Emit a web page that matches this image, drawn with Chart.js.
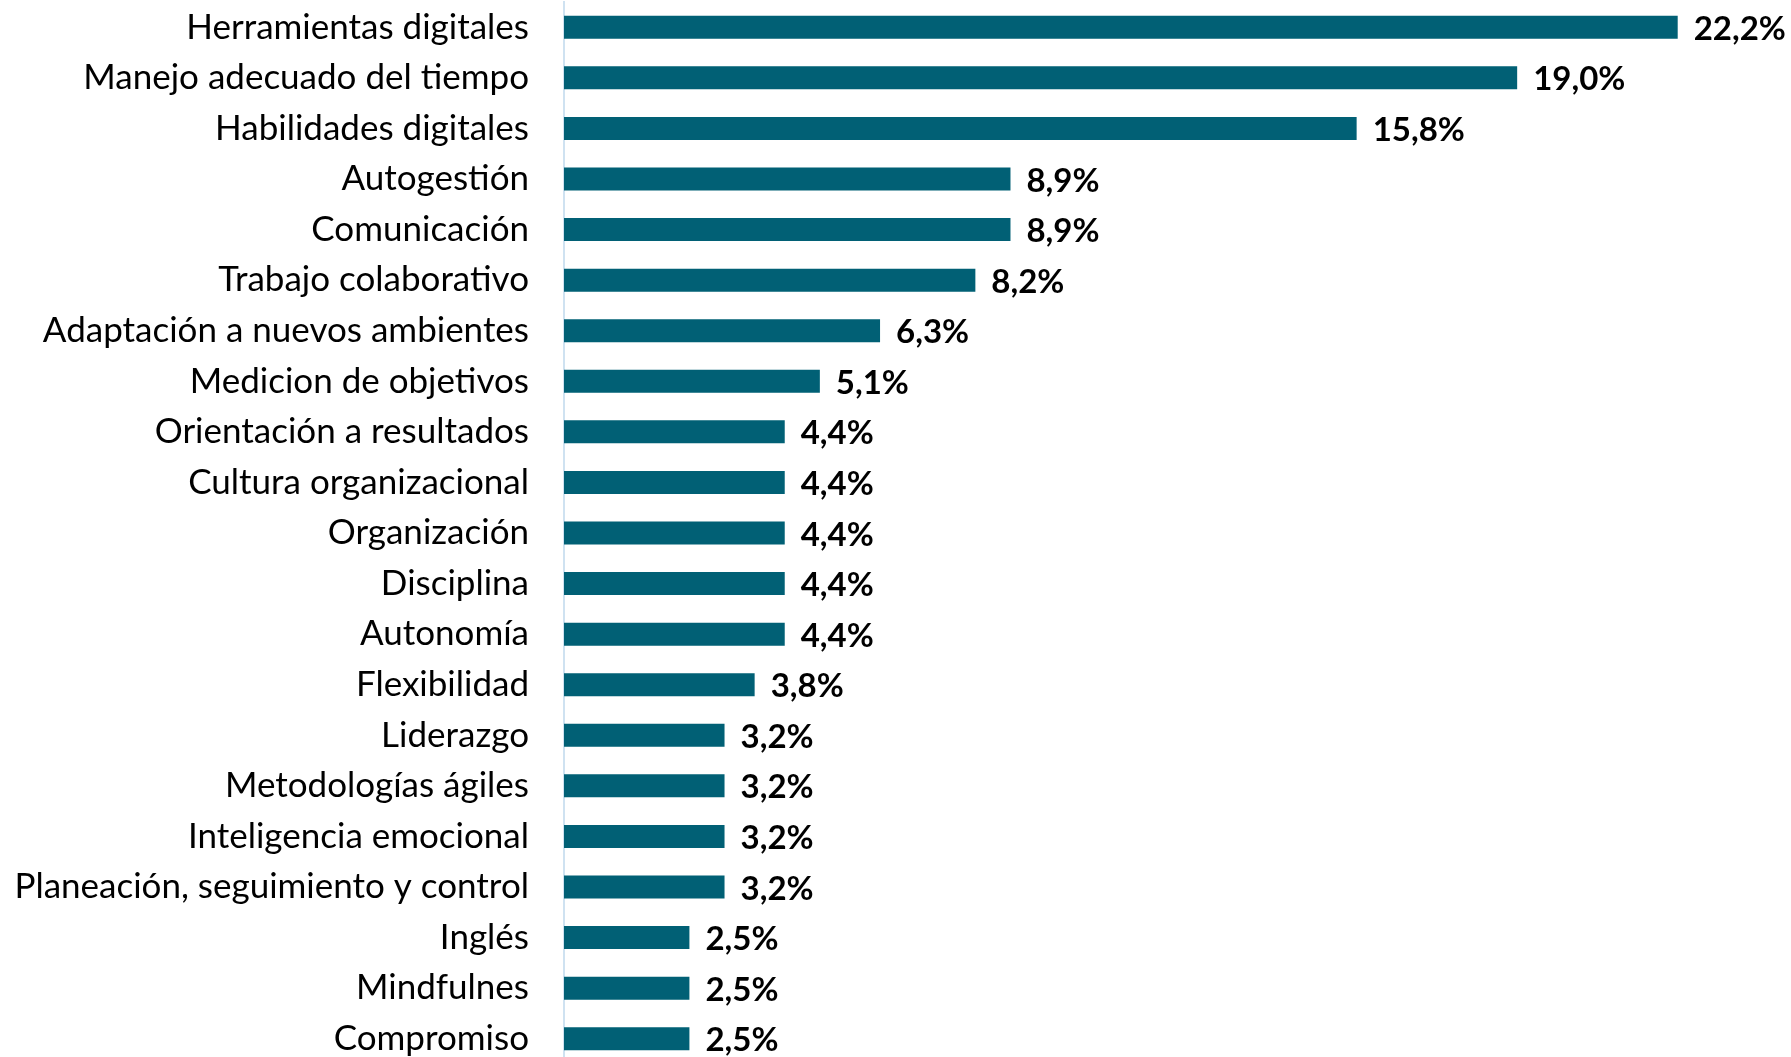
<!DOCTYPE html>
<html lang="es">
<head>
<meta charset="utf-8">
<title>Competencias</title>
<script src="https://cdn.jsdelivr.net/npm/chart.js@4"></script>
<style>
  html, body { margin: 0; padding: 0; background: #fff; overflow: hidden; }
  #wrap { width: 1791px; height: 1057px; overflow: hidden; }
</style>
</head>
<body>
<div id="wrap"><canvas id="chart" width="1791" height="1064"></canvas></div>
<script>
const labels = [
  "Herramientas digitales", "Manejo adecuado del tiempo", "Habilidades digitales",
  "Autogestión", "Comunicación", "Trabajo colaborativo", "Adaptación a nuevos ambientes",
  "Medicion de objetivos", "Orientación a resultados", "Cultura organizacional",
  "Organización", "Disciplina", "Autonomía", "Flexibilidad", "Liderazgo",
  "Metodologías ágiles", "Inteligencia emocional", "Planeación, seguimiento y control",
  "Inglés", "Mindfulnes", "Compromiso"
];
const values = [22.2, 19.0, 15.8, 8.9, 8.9, 8.2, 6.3, 5.1, 4.4, 4.4, 4.4, 4.4, 4.4, 3.8, 3.2, 3.2, 3.2, 3.2, 2.5, 2.5, 2.5];

const FONT = "Lato, 'Open Sans', sans-serif";

// etiquetas de valor a la derecha de cada barra
const valueLabels = {
  id: "valueLabels",
  afterDatasetsDraw(chart) {
    const ctx = chart.ctx;
    const meta = chart.getDatasetMeta(0);
    ctx.save();
    ctx.font = "bold 33px " + FONT;
    ctx.fillStyle = "#000";
    ctx.textAlign = "left";
    ctx.textBaseline = "middle";
    meta.data.forEach((bar, i) => {
      const txt = values[i].toFixed(1).replace(".", ",") + "%";
      ctx.fillText(txt, bar.x + 16, bar.y + 2);
    });
    ctx.restore();
  },
};

new Chart(document.getElementById("chart"), {
  type: "bar",
  data: {
    labels: labels,
    datasets: [{
      data: values,
      backgroundColor: "#016075",
      barPercentage: 0.455,
      categoryPercentage: 1,
    }],
  },
  options: {
    indexAxis: "y",
    responsive: false,
    animation: false,
    layout: { padding: { top: 2, right: 23, bottom: 0, left: 0 } },
    plugins: { legend: { display: false }, tooltip: { enabled: false } },
    scales: {
      x: {
        min: 0,
        max: 24,
        display: false,
      },
      y: {
        afterFit: (scale) => {
          scale.width = 564;
          scale.paddingTop = 0;
          scale.paddingBottom = 0;
        },
        grid: { display: false, drawTicks: false },
        border: { display: true, color: "#cfe2f1", width: 2 },
        ticks: {
          color: "#000",
          padding: 35,
          font: { family: FONT, size: 35 },
        },
      },
    },
  },
  plugins: [valueLabels],
});
</script>
</body>
</html>
